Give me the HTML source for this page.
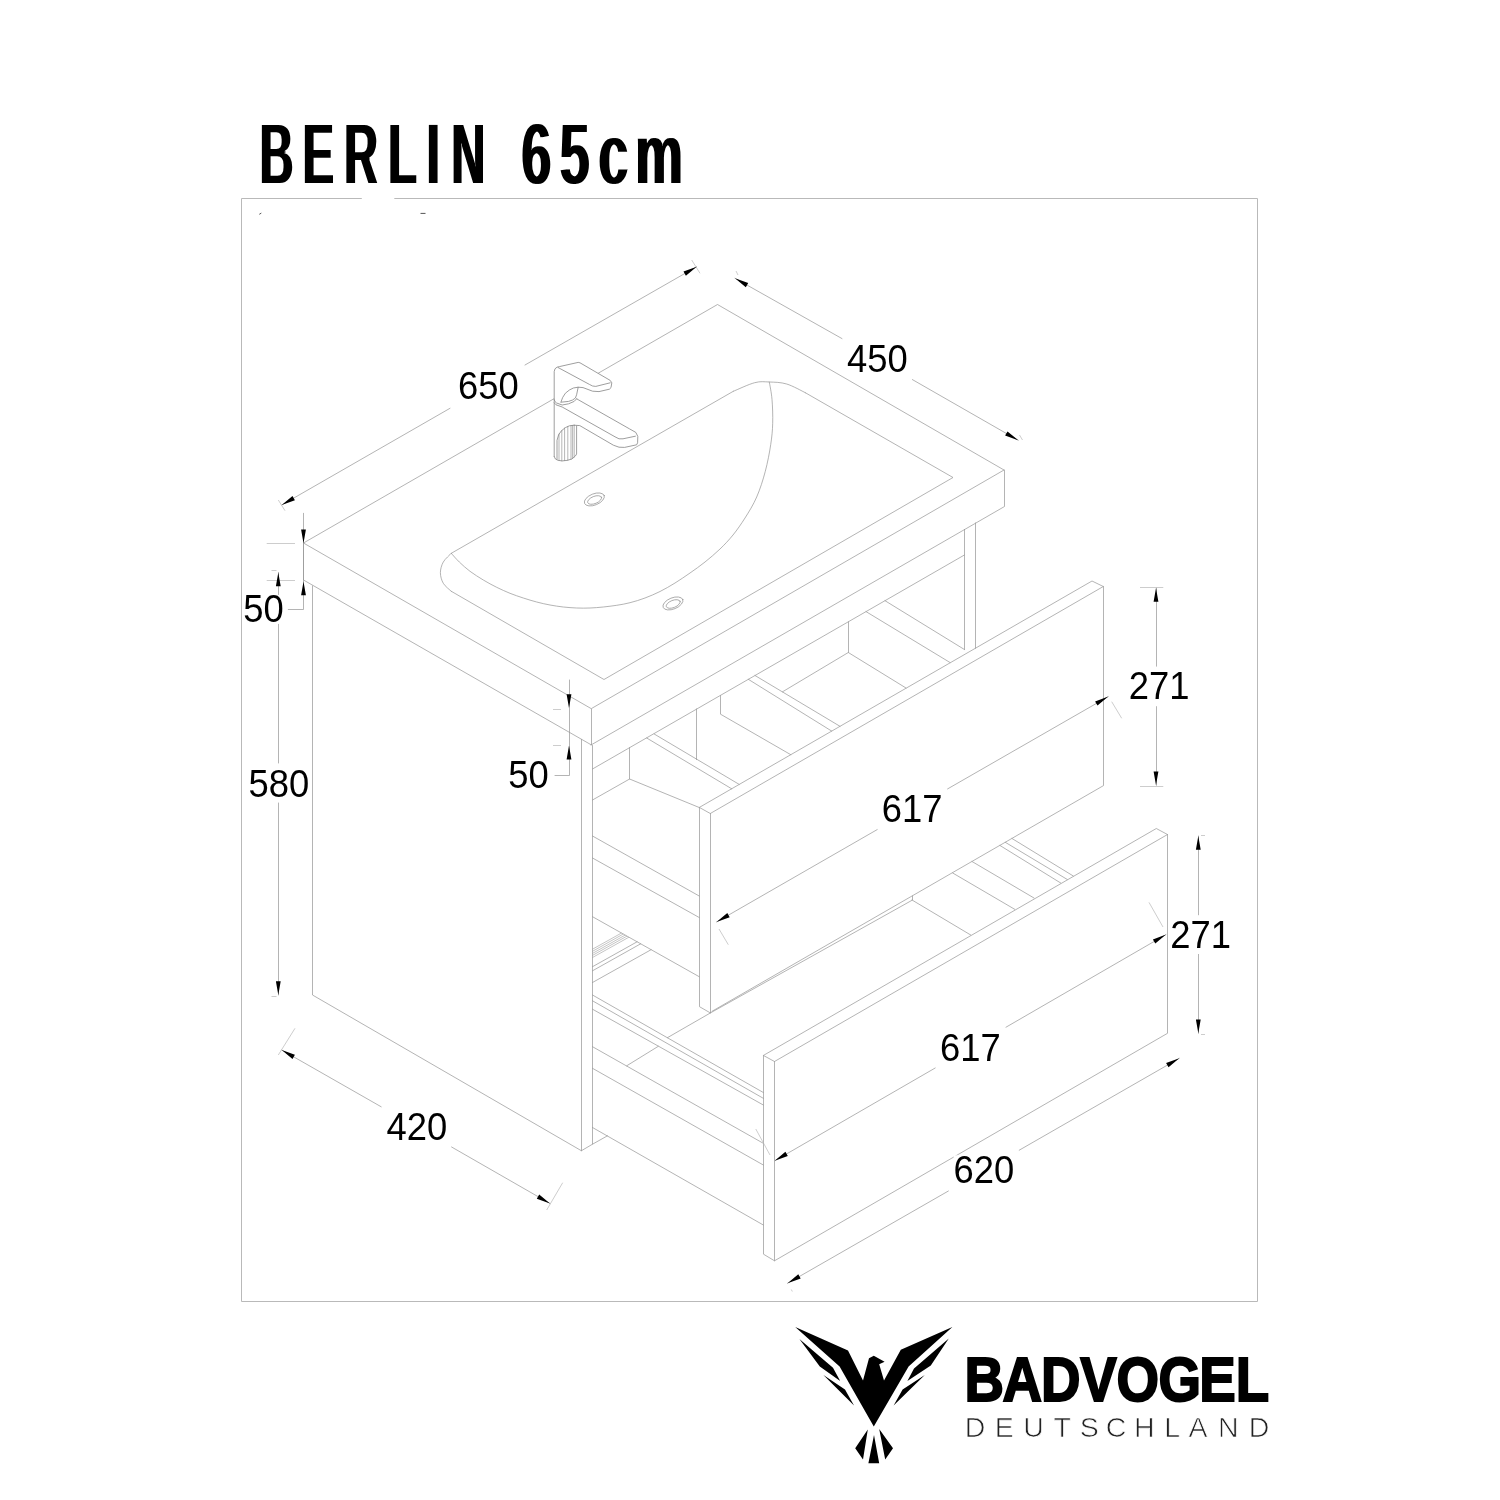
<!DOCTYPE html>
<html lang="de"><head><meta charset="utf-8"><title>BERLIN 65cm – BADVOGEL Deutschland</title>
<style>html,body{margin:0;padding:0;background:#fff}body{width:1500px;height:1500px;overflow:hidden}svg{display:block}text{font-family:"Liberation Sans",sans-serif}.d{font-size:36.4px;fill:#000}</style></head><body>
<svg style="will-change:transform" width="1500" height="1500" viewBox="0 0 1500 1500">
<rect width="1500" height="1500" fill="#fff"/>
<path d="M361.8,198.5H241.5V1301.5H1257.5V198.5H394.3" fill="none" stroke="#b9b9b9" stroke-width="1"/>
<path d="M259.3,214.3l2,-1.2M420.5,213.4h5" fill="none" stroke="#555" stroke-width="1"/>
<g fill="none" stroke="#969696" stroke-width="0.72" stroke-linecap="round" stroke-linejoin="round">
<path d="M591,708.5L303.5,543L717.5,304.5L1004,470L591.5,708.5L591.5,745L303.5,580L303.5,543M1004.5,470L1004.5,506.5L591,745M451.3,591.3L604,679.5L953,477.5L805.3,392.7M312.5,586L312.5,995L581.5,1150.8L581.5,739.4M592.5,745.5L592.5,1144.2L581.3,1150.8M592.5,769L964.4,555M964.5,529.4L964.5,649.5M975.5,523L975.5,648.3M699.2,807.5L1092,581L1103.3,586.5L710.3,813.5L699.5,807.5L699.5,1006.7L710.5,1013L710.5,813.5M1103.5,586.5L1103.5,785.6L712,1011.3M710.3,1013L912.5,900L912.5,896M654.2,734L739.2,784.4M646.7,738L731.7,788.8M696.5,709L696.5,759.6M720.5,695.6L720.5,714.2L790.8,754.7M755,675.5L840,726.3M748.3,679.3L831.7,731.1M782.5,691.8L848.3,652.5L906,688M848.5,621.8L848.5,652.5M866,611.6L950,662.5M885,600.7L964.4,649.5M592.5,800L629.6,779L699.2,807.5M629.5,747.7L629.5,779M592.5,836L699.2,896M592.5,858L699.2,917.5M592.5,916.7L699.2,976.7M592.5,966.7L637.1,941.8M592.5,970.8L640.7,943.8M592.5,982.5L651.1,949.7M592.5,995L763.3,1092.5M592.5,1000.8L763.3,1098.3M592.5,1009.2L763.3,1105M592.5,1046.7L763.3,1143.3M592.5,1068.3L763.3,1165M592.5,1127.5L763.3,1225M592.5,1144.2L607.5,1135.8M710.3,1013L667.4,1037.7M658.3,1046.3L626.7,1065.8M763.3,1055.5L1156.3,828.5L1167.5,834.5L774.5,1061.5L763.5,1055.5L763.5,1254.2L774.5,1260.8L774.5,1061.5M1167.5,834.5L1167.5,1033.3L774.5,1260.8M912,900L970.7,935M952.7,873L1014.7,909.3M972,861.5L1034,898M1000,845.5L1060.7,883M1005.3,842.3L1067.3,879.5M1012,838.5L1073.3,876M281.7,505L450,408.3M525,365L696.7,266.7M735,278.3L842,338.6M912.4,379.6L1018.3,440.3M281.7,1050L381.2,1106.8M451.6,1147L550,1203.5M1179.3,1058.3L1019.2,1150.2M948.4,1191L787.5,1283.3M716.5,922L877.2,829.6M947.6,788.9L1108.3,696.6M774.7,1160.8L935.2,1068M1006,1027.2L1166,934.6M1156.5,588L1156.5,666.2M1156.5,706.6L1156.5,785.3M1198.5,836L1198.5,914.8M1198.5,954.4L1198.5,1033.3M278.5,572.5L278.5,763M278.5,803L278.5,995M303.5,513.3L303.5,609.5L288.3,609.5M569.5,680L569.5,775.5L555,775.5"/>
<path d="M805.3,392.7C802.2,391.2 792.7,385.8 786.7,384C780.7,382.2 774.6,382.2 769.3,382C764,381.8 760.7,381.1 754.7,382.7C748.7,384.2 736.9,389.9 733.3,391.3M733.3,391.3L451.3,553.3M451.3,553.3C450,554.8 445.1,558.8 443.3,562C441.5,565.2 440.4,569.2 440.4,572.7C440.4,576.2 441.5,580.2 443.3,583.3C445.1,586.4 450,590 451.3,591.3M451.3,553.3C452.6,554.8 456.2,559 459.3,562C462.4,565 466,568.3 470,571.3C474,574.3 478.9,577.3 483.3,580C487.8,582.7 492.2,585.1 496.7,587.3C501.1,589.5 505.6,591.5 510,593.3C514.4,595.1 518.8,596.5 523.3,598C527.8,599.5 532.2,600.8 536.7,602C541.2,603.2 545.6,604.2 550,605C554.4,605.8 558.8,606.5 563.3,607C567.8,607.5 572.2,607.8 576.7,608C581.2,608.2 585.6,608.2 590,608C594.4,607.8 598.8,607.5 603.3,607C607.8,606.5 612.2,606 616.7,605.3C621.2,604.6 625.3,603.9 630,602.7C634.7,601.5 640,599.9 645,598C650,596.1 655,594 660,591.5C665,589 670,586.1 675,583C680,579.9 685,576.5 690,573C695,569.5 700,566 705,562C710,558 715.3,553.5 720,549C724.7,544.5 728.8,540.2 733,535C737.2,529.8 741,524.3 745,518C749,511.7 753.3,504.8 756.7,497C760.1,489.2 763,480 765.3,471.3C767.6,462.6 769.5,452.7 770.7,444.7C771.9,436.7 772.5,430.9 772.7,423.3C772.9,415.7 772.6,406.2 772,399.3C771.4,392.4 769.8,384.9 769.3,382"/>
<ellipse cx="594.4" cy="499.4" rx="10.6" ry="5.6" transform="rotate(-22 594.4 499.4)"/>
<ellipse cx="594.4" cy="500.0" rx="7.4" ry="3.6" transform="rotate(-22 594.4 499.4)"/>
<ellipse cx="673" cy="603.4" rx="10.6" ry="5.6" transform="rotate(-22 673 603.4)"/>
<ellipse cx="673" cy="604.0" rx="7.4" ry="3.6" transform="rotate(-22 673 603.4)"/>
</g>
<path d="M278.3,500L285,510.7M691.7,260L700,273.3M736,271L738,275M1019.5,435L1022.5,440M278.3,1055L295,1028.3M546.7,1210L562.7,1182.7M791.3,1289.5L792.3,1291.5M719,929L728.3,944.7M1111.7,701.7L1121.7,718.3M755.8,1129L770,1155M1149,902.4L1163,927M1140,587.5L1163.3,587.5M1140,786.5L1163.3,786.5M1201,835.5L1205,835.5M1201,1034.5L1205,1034.5M271.5,570.5L276.5,570.5M271.5,996.5L276.5,996.5M266.7,543.5L295,543.5M266.7,580.5L295,580.5M553,709.5L561,709.5M553,745.5L561,745.5" fill="none" stroke="#b8b8b8" stroke-width="0.7"/>
<path d="M592.5,949.2L621.5,933M592.5,951.3L623.3,934M592.5,953.4L625.2,935.1M592.5,955.4L627,936.1M592.5,957.5L628.9,937.2" fill="none" stroke="#8a8a8a" stroke-width="0.5"/>
<g fill="#fff" stroke="#858585" stroke-width="0.8" stroke-linejoin="round" stroke-linecap="round">
<path d="M554.2,371.6L555,368.8L557,367.2L559.4,366.6L578.2,362.4L580,362.8L610.2,380.4L611.8,382.8L611,387.6L609.4,389.2L599,391.6L592.6,391.2L583,387.6L578.2,387.2L576.6,394.8L576.6,398.8L629.4,428.8L635.8,432.4L637.8,436.4L637.6,442.8L636.6,444.8L624.6,447.4L619,447.2L613.4,445.2L579.8,425.6L576.6,426L576.6,454L575.4,456L571.8,459L567,460.4L562.2,460.9L558.2,460.4L555.4,459L554.2,456.4Z" stroke="none"/>
<path d="M554.2,456.4L554.2,371.6L555,368.8L557,367.2L559.4,366.6L578.2,362.4L580,362.8L610.2,380.4L611.8,382.8L611,387.6L609.4,389.2L599,391.6L592.6,391.2L583,387.6L578.2,387.2M558.2,367.6L589.4,384.4L592.6,386L595.8,386.4L610.2,382.8M554.2,399.6L555,401.6L556.6,403L562.2,405L568.6,403.8L574.2,401.4L576.6,398.8M554.2,402.8L556,404.8L562.2,407L615,436.8L619,438.8L623,438.8L635.4,436.2M561,402L562.6,397.6L565.4,393.2L569.4,390L573.4,388L578.2,387.2L576.6,394.8L575.4,398L572.6,400L568.6,401.4L561,402.2M576.6,398.8L629.4,428.8L635.8,432.4L637.8,436.4L637.6,442.8L636.6,444.8L624.6,447.4L619,447.2L613.4,445.2L579.8,425.6L574.2,425.2M554.2,456.4L555.4,459L558.2,460.4L562.2,460.9L567,460.4L571.8,459L575.4,456L576.6,454L576.6,426M557,459.2L557,440.4L558.6,434.8L561.4,430.8L565.4,427.6L569.4,425.8L574.2,425.2" fill="none"/>
<path d="M559,434L559,460.5M561.8,430.4L561.8,460.9M564.6,428L564.6,460.6M567.8,426.4L567.8,460.2M571,425.6L571,459.3M572.6,425.4L572.6,458.3M574.2,425.2L574.2,457" fill="none" stroke-width="0.6"/>
</g>
<path d="M281.7,505L292.5,496L294.9,500.2ZM696.7,266.7L685.9,275.7L683.5,271.5ZM735,278.3L748.2,283.1L745.8,287.2ZM1018.3,440.3L1005.1,435.5L1007.5,431.4ZM281.7,1050L294.9,1054.8L292.5,1058.9ZM550,1203.5L536.8,1198.7L539.2,1194.6ZM1179.3,1058.3L1168.5,1067.3L1166.1,1063.1ZM787.5,1283.3L798.3,1274.3L800.7,1278.5ZM716.5,922L727.3,913L729.7,917.2ZM1108.3,696.6L1097.5,705.6L1095.1,701.4ZM774.7,1160.8L785.4,1151.8L787.8,1156ZM1166,934.6L1155.3,943.6L1152.9,939.4ZM1156,588L1158.4,601.8L1153.6,601.8ZM1156,785.3L1153.6,771.5L1158.4,771.5ZM1198.3,836L1200.7,849.8L1195.9,849.8ZM1198.3,1033.3L1195.9,1019.5L1200.7,1019.5ZM278.3,572.5L280.7,586.3L275.9,586.3ZM278.3,995L275.9,981.2L280.7,981.2ZM303.5,543.3L301.1,529.5L305.9,529.5ZM303.5,581.5L305.9,595.3L301.1,595.3ZM569,708L566.6,694.2L571.4,694.2ZM569,745.6L571.4,759.4L566.6,759.4Z" fill="#000"/>
<rect x="458.4" y="371.8" width="61.6" height="29" fill="#fff"/>
<text class="d" transform="translate(458.1 399.3) scale(1 1.045)">650</text>
<rect x="846.3" y="344.1" width="61.6" height="29" fill="#fff"/>
<text class="d" transform="translate(847 371.6) scale(1 1.045)">450</text>
<rect x="243.3" y="594.9" width="41.4" height="29" fill="#fff"/>
<text class="d" transform="translate(243.3 622.4) scale(1 1.045)">50</text>
<rect x="248.4" y="769" width="61.6" height="29" fill="#fff"/>
<text class="d" transform="translate(248.4 796.5) scale(1 1.045)">580</text>
<rect x="508.3" y="760.1" width="41.4" height="29" fill="#fff"/>
<text class="d" transform="translate(508.3 787.6) scale(1 1.045)">50</text>
<rect x="1129.1" y="671.9" width="61.6" height="29" fill="#fff"/>
<text class="d" transform="translate(1128.8 699.4) scale(1 1.045)">271</text>
<rect x="882.1" y="794.5" width="61.6" height="29" fill="#fff"/>
<text class="d" transform="translate(881.8 822) scale(1 1.045)">617</text>
<rect x="1170.5" y="920.1" width="61.6" height="29" fill="#fff"/>
<text class="d" transform="translate(1170.2 947.6) scale(1 1.045)">271</text>
<rect x="940.3" y="1033.1" width="61.6" height="29" fill="#fff"/>
<text class="d" transform="translate(940 1060.6) scale(1 1.045)">617</text>
<rect x="953.7" y="1155.3" width="61.6" height="29" fill="#fff"/>
<text class="d" transform="translate(953.4 1182.8) scale(1 1.045)">620</text>
<rect x="385.7" y="1112.1" width="61.6" height="29" fill="#fff"/>
<text class="d" transform="translate(386.4 1139.6) scale(1 1.045)">420</text>
<defs><filter id="tw" x="-2%" y="-10%" width="104%" height="120%" color-interpolation-filters="sRGB"><feMorphology operator="erode" radius="0 1"/><feMorphology operator="dilate" radius="1 0"/></filter></defs>
<g filter="url(#tw)">
<text transform="translate(0 183.8) scale(0.54 1)" font-size="86.3" x="480.9 560.7 637.3 718.8 790.3 836.1" y="0" font-weight="700" fill="#000">BERLIN</text>
<text transform="translate(0 183.8) scale(0.62 1)" font-size="86.3" x="841.3 902.9 965.5 1024.7" y="0" font-weight="700" fill="#000">65cm</text>
</g>
<path d="M795.2,1327L848,1350.4L863,1380.4L869,1358.2L873.8,1355.8L884.6,1361.8L879.2,1364.2L884,1380.4L900.8,1349.8L952.4,1327L908.6,1366.6L873.8,1426.6L839.6,1366.6ZM799.4,1339L833,1367.8L840.2,1381L819.8,1366.6ZM823.4,1375L845,1389.4L854,1405.6ZM948.8,1338.4L930.8,1365.4L907.4,1381L914,1368.4ZM924.8,1375L893.6,1405.6L902.6,1389.4ZM867.8,1429.6L855.2,1448.2L863,1459.6ZM874,1435L868.4,1463.2L879.2,1463.2ZM879.2,1429L893,1448.2L885.2,1459.6Z" fill="#000"/>
<text transform="translate(0 1400.6) scale(0.875 1)" font-size="62.5" x="1102.2 1145.8 1189.6 1234.5 1276.1 1324 1370.5 1412.3" y="0" font-weight="700" fill="#000" stroke="#000" stroke-width="2.0">BADVOGEL</text>
<text transform="translate(0 1437.3) scale(1.05 1)" font-size="27.2" x="918.8 947.3 974.6 1003.4 1028.3 1053 1079.9 1108.7 1132 1160 1189.4" y="0" fill="#222" stroke="#fff" stroke-width="0.7">DEUTSCHLAND</text>
</svg></body></html>
